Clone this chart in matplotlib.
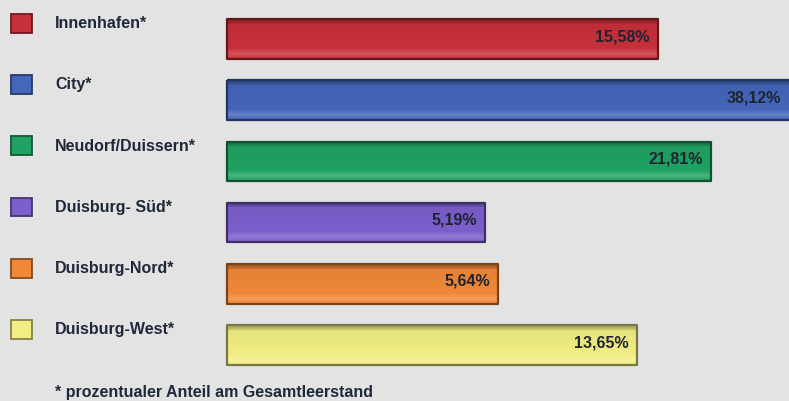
import numpy as np
import matplotlib
matplotlib.use("Agg")
import matplotlib.pyplot as plt
from matplotlib.colors import to_rgb
from matplotlib.patches import Rectangle
import matplotlib.transforms as mtransforms

matplotlib.rcParams['font.family'] = ['Liberation Sans', 'DejaVu Sans']

# Daten
kategorien = ['Innenhafen*', 'City*', 'Neudorf/Duissern*', 'Duisburg- Süd*', 'Duisburg-Nord*', 'Duisburg-West*']
anteile = [15.58, 38.12, 21.81, 5.19, 5.64, 13.65]
beschriftung = ['15,58%', '38,12%', '21,81%', '5,19%', '5,64%', '13,65%']
farben = ['#c8303a', '#4466bb', '#20a262', '#7b5fcc', '#f08838', '#f2ee84']
fussnote = '* prozentualer Anteil am Gesamtleerstand'

bg = '#e3e3e3'
W, H = 789, 401


def mischen(c, ziel, t):
    c = np.array(to_rgb(c))
    z = np.array(to_rgb(ziel))
    return tuple(c * (1 - t) + z * t)


fig = plt.figure(figsize=(W / 100, H / 100), dpi=100, facecolor=bg)
ax = fig.add_axes([0, 0, 1, 1])
ax.set_facecolor(bg)
ax.set_xscale('log')
ax.set_xlim(0.236, 35.86)
ax.set_ylim(5.915, -0.637)
ax.axis('off')

y = np.arange(len(kategorien))
hoehe = 0.65
balken = ax.barh(y, np.array(anteile) - 1, left=1, height=hoehe,
                 color='none', edgecolor='none')

# Farbverlauf in jedem Balken
for b, f, v, yi in zip(balken, farben, anteile, y):
    stufen = np.linspace(0, 1, 60)
    cols = []
    for s in stufen:
        if s < 0.12:
            c = mischen(f, 'black', 0.35 - s * 1.5)
        elif s < 0.75:
            c = mischen(f, 'black', 0.08 * (0.75 - s))
        else:
            c = mischen(f, 'white', 0.18 * (1 - abs(s - 0.88) / 0.13))
        cols.append(c)
    img = np.array(cols).reshape(-1, 1, 3)
    im = ax.imshow(img, extent=(1, v, yi + hoehe / 2, yi - hoehe / 2),
                   aspect='auto', interpolation='bilinear', zorder=2)
    im.set_clip_path(b)
    ax.barh(yi, v - 1, left=1, height=hoehe, color='none',
            edgecolor=mischen(f, 'black', 0.5), linewidth=1.6,
            joinstyle='round', zorder=3)

ax.set_xlim(0.236, 35.86)
ax.set_ylim(5.915, -0.637)

# Werte in den Balken
xmax = ax.get_xlim()[1]
for yi, v, t in zip(y, anteile, beschriftung):
    ax.annotate(t, xy=(min(v, xmax), yi - 0.04), xytext=(-6, 0),
                textcoords='offset points', ha='right', va='center',
                fontsize=11.5, fontweight='bold', color='#1e2430', zorder=4)

# Legende links
trans = mtransforms.blended_transform_factory(ax.transAxes, ax.transData)
for yi, k, f in zip(y, kategorien, farben):
    ly = yi - 0.25
    ax.add_patch(Rectangle((11 / W, ly - 0.16), 21 / W, 0.31, transform=trans,
                           facecolor=f, edgecolor=mischen(f, 'black', 0.45),
                           linewidth=1.3, zorder=3))
    ax.text(55 / W, ly, k, transform=trans, ha='left', va='center',
            fontsize=11.5, fontweight='bold', color='#1f2838')

fig.text(55 / W, 1 - 392 / H, fussnote, ha='left', va='center',
         fontsize=11.5, fontweight='bold', color='#1f2838')

fig.savefig('out.png', dpi=100, facecolor=bg)
